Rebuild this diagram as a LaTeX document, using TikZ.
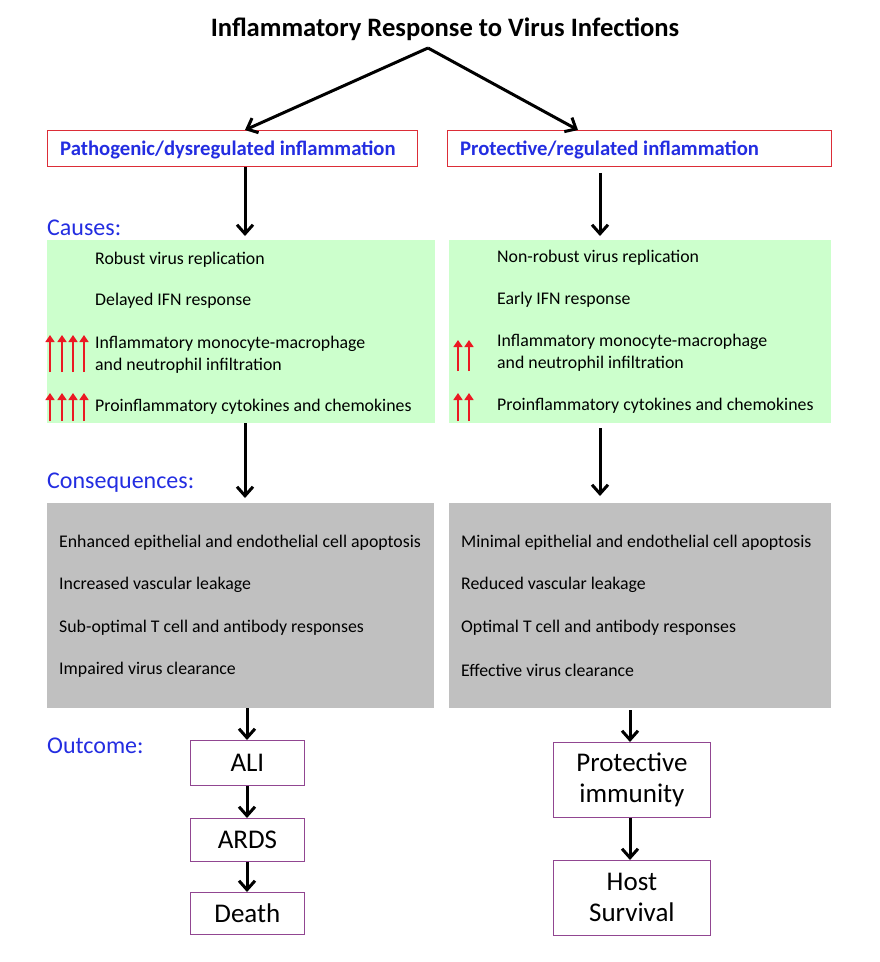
\documentclass[tikz,border=0pt]{standalone}
\usepackage{fontspec}
\setmainfont{Carlito}
\usetikzlibrary{arrows.meta}
\definecolor{hblue}{RGB}{35,45,225}
\definecolor{bred}{RGB}{220,45,55}
\definecolor{cgreen}{RGB}{204,255,204}
\definecolor{cgrey}{RGB}{192,192,192}
\definecolor{purp}{RGB}{145,70,145}
\definecolor{uparrow}{RGB}{235,25,35}
\begin{document}
\begin{tikzpicture}[x=1pt,y=-1pt,
  bigarrow/.style={line width=3pt,-{Straight Barb[length=9pt,width=16pt]}},
  redarrow/.style={draw=uparrow,line width=1.6pt,-{Triangle[length=7pt,width=9pt]}},
  headbox/.style={draw=bred,line width=0.8pt,anchor=north west,minimum height=36pt,inner sep=0pt},
  headtext/.style={anchor=west,text=hblue,font=\fontsize{20.7}{24}\selectfont\bfseries,inner sep=0pt},
  section/.style={anchor=west,text=hblue,font=\fontsize{24}{28}\selectfont,inner sep=0pt},
  greenbox/.style={fill=cgreen,anchor=north west,minimum height=183pt,inner sep=0pt},
  greybox/.style={fill=cgrey,anchor=north west,minimum height=205pt,inner sep=0pt},
  item/.style={anchor=west,font=\fontsize{17.8}{22}\selectfont,inner sep=0pt,align=left},
  outbox/.style={draw=purp,line width=0.8pt,anchor=north west,font=\fontsize{27}{31}\selectfont,align=center,inner sep=0pt,minimum width=114pt},
  outbox2/.style={outbox,minimum width=157pt,minimum height=75pt}
]
\useasboundingbox (0,0) rectangle (880,962);

% title
\node[font=\fontsize{26.6}{30}\selectfont\bfseries,inner sep=0pt] (title) at (445,29) {Inflammatory Response to Virus Infections};
\coordinate (apex) at (428,48);

% header boxes
\node[headbox,minimum width=370pt] (lhead) at (47,130) {};
\node[headtext] (lheadt) at (60,150) {Pathogenic/dysregulated inflammation};
\node[headbox,minimum width=384pt] (rhead) at (447,130) {};
\node[headtext] (rheadt) at (460,150) {Protective/regulated inflammation};

\coordinate (lheadtip) at (245,130);
\coordinate (rheadtip) at (578,130);
\draw[bigarrow] (apex) -- (lheadtip);
\draw[bigarrow] (apex) -- (rheadtip);

% causes
\node[section] (causes) at (47,228) {Causes:};
\node[greenbox,minimum width=388pt] (lgreen) at (47,240) {};
\node[greenbox,minimum width=382pt] (rgreen) at (449,240) {};

\draw[bigarrow] (lhead.south -| lheadtip) -- ([yshift=4pt]lgreen.north -| lheadtip);
\coordinate (rcol) at (600,0);
\draw[bigarrow] ([yshift=-6pt]rhead.south -| rcol) -- ([yshift=4pt]rgreen.north -| rcol);

\node[item] (l1) at (95,260) {Robust virus replication};
\node[item] (l2) at (95,301) {Delayed IFN response};
\node[item] (l3) at (95,355) {Inflammatory monocyte-macrophage\\and neutrophil infiltration};
\node[item] (l4) at (95,407) {Proinflammatory cytokines and chemokines};

\node[item] (r1) at (497,258) {Non-robust virus replication};
\node[item] (r2) at (497,300) {Early IFN response};
\node[item] (r3) at (497,353) {Inflammatory monocyte-macrophage\\and neutrophil infiltration};
\node[item] (r4) at (497,406) {Proinflammatory cytokines and chemokines};

\foreach \x in {50,62,73,84}{
  \draw[redarrow] (\x,372) -- (\x,335);
  \draw[redarrow] (\x,421) -- (\x,393);
}
\foreach \x in {458,469}{
  \draw[redarrow] (\x,371) -- (\x,340);
  \draw[redarrow] (\x,421) -- (\x,393);
}

% consequences
\node[section] (cons) at (47,483) {Consequences:};
\node[greybox,minimum width=387pt] (lgrey) at (47,503) {};
\node[greybox,minimum width=382pt] (rgrey) at (449,503) {};

\draw[bigarrow] (lgreen.south -| lheadtip) -- ([yshift=5pt]lgrey.north -| lheadtip);
\draw[bigarrow] ([yshift=-5pt]rgreen.south -| rcol) -- ([yshift=7pt]rgrey.north -| rcol);

\node[item] (g1) at (59,543) {Enhanced epithelial and endothelial cell apoptosis};
\node[item] (g2) at (59,585) {Increased vascular leakage};
\node[item] (g3) at (59,628) {Sub-optimal T cell and antibody responses};
\node[item] (g4) at (59,670) {Impaired virus clearance};

\node[item] (h1) at (461,543) {Minimal epithelial and endothelial cell apoptosis};
\node[item] (h2) at (461,585) {Reduced vascular leakage};
\node[item] (h3) at (461,628) {Optimal T cell and antibody responses};
\node[item] (h4) at (461,670) {Effective virus clearance};

% outcome
\node[section] (outc) at (47,746) {Outcome:};
\node[outbox,minimum height=45pt] (ali) at (190,740) {ALI};
\node[outbox,minimum height=43pt] (ards) at (190,818) {ARDS};
\node[outbox,minimum height=42pt] (death) at (190,892) {Death};
\node[outbox2] (pi) at (553,742) {Protective\\immunity};
\node[outbox2] (hs) at (553,860) {Host\\Survival};

\coordinate (lcol2) at (247,0);
\coordinate (rcol2) at (630,0);
\draw[bigarrow] (lgrey.south -| lcol2) -- (ali.north -| lcol2);
\draw[bigarrow] (ali.south -| lcol2) -- (ards.north -| lcol2);
\draw[bigarrow] (ards.south -| lcol2) -- (death.north -| lcol2);
\draw[bigarrow] ([yshift=-2pt]rgrey.south -| rcol2) -- (pi.north -| rcol2);
\draw[bigarrow] (pi.south -| rcol2) -- (hs.north -| rcol2);
\end{tikzpicture}
\end{document}
